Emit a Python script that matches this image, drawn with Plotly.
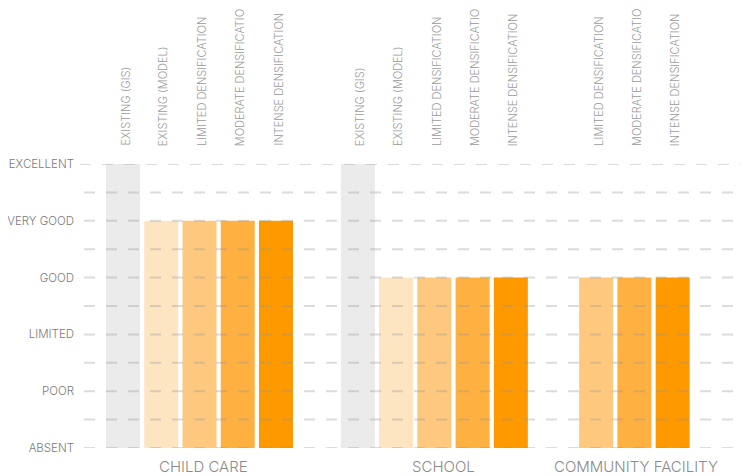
import plotly.graph_objects as go

# ---------------- data ----------------
categories = ["CHILD CARE", "SCHOOL", "COMMUNITY FACILITY"]
series_names = ["EXISTING (GIS)", "EXISTING (MODEL)", "LIMITED DENSIFICATION",
                "MODERATE DENSIFICATION", "INTENSE DENSIFICATION"]
series_labels = ["EXISTING (GIS)", "EXISTING (MODEL)", "LIMITED DENSIFICATION",
                 "MODERATE DENSIFICATIO", "INTENSE DENSIFICATION"]
level_labels = ["ABSENT", "POOR", "LIMITED", "GOOD", "VERY GOOD", "EXCELLENT"]
level_values = [0, 1, 2, 3, 4, 5]

gis_values = [5, 5, None]
model_values = [4, 3, None]
limited_values = [4, 3, 3]
moderate_values = [4, 3, 3]
intense_values = [4, 3, 3]
all_values = [gis_values, model_values, limited_values, moderate_values, intense_values]

# ---------------- styling / layout ----------------
colors = ["#ebebeb", "#fee5c2", "#fec97f", "#feb140", "#fe9900"]
W, H = 749, 476
OFF = 8  # page body margin in the browser
# plot area in window pixels
PLOT_LEFT, PLOT_RIGHT, PLOT_TOP, PLOT_BOTTOM = 78, 742, 164, 448
M_L = PLOT_LEFT - OFF
M_R = W - (PLOT_RIGHT - OFF)
M_T = PLOT_TOP - OFF
M_B = H - (PLOT_BOTTOM - OFF)
PLOT_W = PLOT_RIGHT - PLOT_LEFT
PLOT_H = PLOT_BOTTOM - PLOT_TOP
PX_PER_SLOT = 38.25
FIRST_BAR_PX = 123.0
group_starts = [0.0, 6.14, 12.37]
group_label_px = [203.0, 443.5, 635.5]
FONT = "Inter"

x_min = -(FIRST_BAR_PX - PLOT_LEFT) / PX_PER_SLOT
x_max = x_min + PLOT_W / PX_PER_SLOT


def px_to_x(px):
    return x_min + (px - PLOT_LEFT) / PX_PER_SLOT


fig = go.Figure()
annotations = []

for s_idx, (name, label, vals, col) in enumerate(zip(series_names, series_labels, all_values, colors)):
    xs, ys = [], []
    for g_idx, v in enumerate(vals):
        if v is None:
            continue
        present = [k for k in range(len(series_names)) if all_values[k][g_idx] is not None]
        pos = group_starts[g_idx] + present.index(s_idx)
        xs.append(pos)
        ys.append(v)
        annotations.append(dict(
            x=pos + 2 / PX_PER_SLOT, xref="x", y=1 + 16 / PLOT_H, yref="paper",
            text=label, textangle=-90, showarrow=False,
            xanchor="center", yanchor="bottom",
            font=dict(family=FONT, size=11, color="#9a9a9a", weight=300),
        ))
    fig.add_trace(go.Bar(
        x=xs, y=ys, name=name, width=34 / PX_PER_SLOT,
        marker=dict(color=col, line=dict(width=0)),
        hoverinfo="name+y",
    ))

for g_idx, cat in enumerate(categories):
    annotations.append(dict(
        x=px_to_x(group_label_px[g_idx]), xref="x",
        y=-(466 - PLOT_BOTTOM) / PLOT_H, yref="paper",
        text=cat, showarrow=False, xanchor="center", yanchor="middle",
        font=dict(family=FONT, size=15, color="#8a8a8a", weight=300),
    ))

# dashed grid lines drawn above the bars
shapes = []
for i in range(11):
    yv = i * 0.5
    start_px = 80 if yv == 5 else 84
    shapes.append(dict(
        type="line", xref="paper", yref="y",
        x0=(start_px - PLOT_LEFT) / PLOT_W, x1=1.0, y0=yv, y1=yv,
        line=dict(color="rgba(150,150,150,0.33)", width=2, dash="11px,11px"),
        layer="above",
    ))

fig.update_layout(
    width=W, height=H,
    margin=dict(l=M_L, r=M_R, t=M_T, b=M_B, pad=0, autoexpand=False),
    paper_bgcolor="white", plot_bgcolor="white",
    showlegend=False, barmode="overlay",
    annotations=annotations, shapes=shapes,
    font=dict(family=FONT),
    xaxis=dict(range=[x_min, x_max], showgrid=False, zeroline=False,
               showticklabels=False, showline=False, fixedrange=True,
               automargin=False),
    yaxis=dict(range=[0, 5], tickvals=level_values, ticktext=level_labels,
               showgrid=False, zeroline=False, showline=False, ticks="",
               tickfont=dict(family=FONT, size=11.5, color="#7a7a7a", weight=300),
               ticklabelstandoff=3, fixedrange=True, automargin=False),
)

fig.write_html("out.html")
